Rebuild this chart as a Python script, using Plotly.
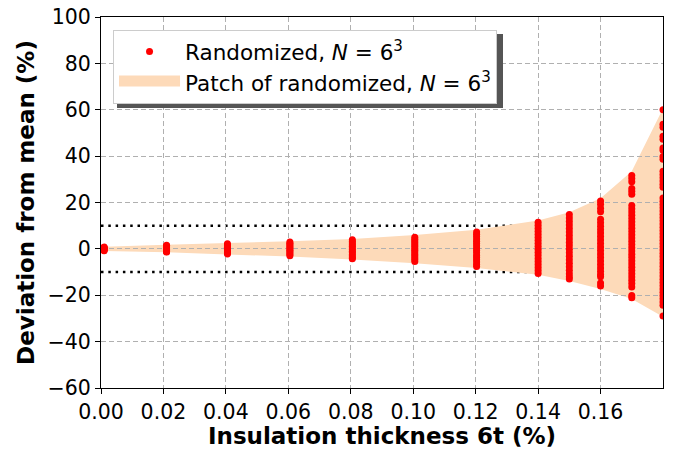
import plotly.graph_objects as go

# ---- data ----
thickness = [0.001, 0.021, 0.0405, 0.0605, 0.0805, 0.1005, 0.1203, 0.14, 0.15, 0.16, 0.17, 0.18]

d000 = [0.8, 0.6, 0.4, 0.2, 0.0, -0.2, -0.4, -0.6, -0.8]
d002 = [1.6, 1.2, 0.8, 0.4, 0.0, -0.4, -0.8, -1.2, -1.4]
d004 = [2.2, 1.7, 1.2, 0.7, 0.2, -0.3, -0.8, -1.3, -1.8, -2.2]
d006 = [3.0, 2.4, 1.8, 1.2, 0.6, 0.0, -0.6, -1.2, -1.8, -2.4, -3.0]
d008 = [3.9, 3.2, 2.5, 1.8, 1.1, 0.4, -0.3, -1.0, -1.7, -2.4, -3.1, -3.8, -4.3]
d010 = [5.0, 4.2, 3.4, 2.6, 1.8, 1.0, 0.2, -0.6, -1.4, -2.2, -3.0, -3.8, -4.6, -5.4]
d012 = [7.3, 6.3, 5.3, 4.3, 3.3, 2.3, 1.3, 0.3, -0.7, -1.7, -2.7, -3.7, -4.7, -5.7, -6.7, -7.6]
d014 = [11.5, 10.2, 8.9, 7.6, 6.3, 5.0, 3.7, 2.4, 1.1, -0.2, -1.5, -2.8, -4.1, -5.4,
        -6.7, -8.0, -9.3, -10.6]
d015 = [14.8, 13.3, 11.8, 10.3, 8.8, 7.3, 5.8, 4.3, 2.8, 1.3, -0.2, -1.7, -3.2, -4.7,
        -6.2, -7.7, -9.2, -10.7, -12.0, -13.0]
d016 = [20.6, 19.2, 17.5, 16.0, 12.8, 11.3, 9.8, 8.3, 6.8, 5.3, 3.8, 2.3, 0.8, -0.7,
        -2.2, -3.7, -5.2, -6.7, -8.2, -9.7, -11.0, -12.0, -14.7, -16.0]
d017 = [31.6, 30.3, 29.0, 26.0, 24.8, 23.6, 18.7, 17.3, 15.9, 14.5, 13.1, 11.7, 10.3,
        8.9, 7.5, 6.1, 4.7, 3.3, 1.9, 0.5, -0.9, -2.3, -3.7, -5.1, -6.5, -7.9, -9.3,
        -10.7, -12.1, -13.5, -14.9, -16.4, -20.1, -21.1]
d018 = [60.0, 53.8, 52.5, 48.6, 47.3, 43.5, 42.5, 39.8, 38.6, 33.5, 32.1, 30.7, 29.3,
        27.9, 26.6, 21.9, 20.5, 19.1, 17.7, 16.3, 14.9, 13.5, 12.1, 10.7, 9.3, 7.9, 6.5,
        5.1, 3.7, 2.3, 0.9, -0.5, -1.9, -3.3, -4.7, -6.1, -7.5, -8.9, -10.3, -11.7,
        -13.1, -14.5, -15.9, -17.3, -18.7, -20.1, -21.5, -22.9, -24.3, -29.0]
columns = [d000, d002, d004, d006, d008, d010, d012, d014, d015, d016, d017, d018]

env_upper = [0.9, 1.8, 2.5, 3.3, 4.3, 6.0, 8.3, 12.2, 15.8, 21.8, 33.5, 60.5]
env_lower = [-0.9, -1.5, -2.4, -3.3, -4.6, -6.2, -8.2, -11.2, -13.9, -17.3, -21.6, -29.3]

thresholds = [10, -10]

x_ticks = [0.0, 0.02, 0.04, 0.06, 0.08, 0.10, 0.12, 0.14, 0.16]
x_ticktext = ["0.00", "0.02", "0.04", "0.06", "0.08", "0.10", "0.12", "0.14", "0.16"]
y_ticks = [-60, -40, -20, 0, 20, 40, 60, 80, 100]

# ---- build ----
FONT = "DejaVu Sans"
PATCH = "#FDDAB9"

pts_x, pts_y = [], []
for xv, col in zip(thickness, columns):
    for v in col:
        pts_x.append(xv)
        pts_y.append(v)

fig = go.Figure()

# envelope drawn as a below-grid shape so gridlines show over it (as in matplotlib)
path = "M " + " L ".join(f"{x},{y}" for x, y in zip(thickness, env_upper))
path += " L " + " L ".join(f"{x},{y}" for x, y in zip(thickness[::-1], env_lower[::-1])) + " Z"
fig.add_shape(type="path", path=path, xref="x", yref="y", layer="below",
              fillcolor=PATCH, line=dict(width=0))

fig.add_trace(go.Scatter(
    x=pts_x, y=pts_y, mode="markers",
    marker=dict(color="red", size=7, line=dict(width=0)),
    name="Randomized, <i>N</i> = 6<sup>3</sup>",
))
# legend proxy for the patch
fig.add_trace(go.Scatter(
    x=[None], y=[None], mode="lines", fill="toself", fillcolor=PATCH,
    line=dict(color=PATCH, width=15),
    name="Patch of randomized, <i>N</i> = 6<sup>3</sup>",
))

for t in thresholds:
    fig.add_shape(type="line", xref="paper", yref="y", x0=0, x1=1, y0=t, y1=t,
                  layer="between", line=dict(color="black", width=2.5, dash="2.5px,4.8px"))

# legend shadow
fig.add_shape(type="rect", xref="paper", yref="paper", layer="above",
              x0=0.0285, x1=0.7153, y0=0.7547, y1=0.954,
              fillcolor="#555555", line=dict(width=0))

axis_common = dict(
    showline=True, linecolor="black", linewidth=1.2, mirror=True,
    ticks="outside", ticklen=5, tickwidth=1.2, tickcolor="black",
    showgrid=True, gridcolor="#b0b0b0", gridwidth=1, griddash="5px,3px",
    zeroline=False, tickfont=dict(family=FONT, size=20.5, color="black"),
)

fig.update_xaxes(range=[0, 0.18], tickvals=x_ticks, ticktext=x_ticktext,
                 title=dict(text="Insulation thickness 6t (%)", standoff=11,
                            font=dict(family=FONT, size=23, color="black", weight="bold")),
                 **axis_common)
fig.update_yaxes(range=[-60, 100], tickvals=y_ticks,
                 title=dict(text="Deviation from mean (%)", standoff=6,
                            font=dict(family=FONT, size=23, color="black", weight="bold")),
                 **axis_common)

fig.update_layout(
    width=683, height=449,
    margin=dict(l=101, r=20, t=17, b=61, autoexpand=False),
    paper_bgcolor="white", plot_bgcolor="white",
    font=dict(family=FONT, color="black"),
    showlegend=True,
    legend=dict(x=0.0214, y=0.965, xanchor="left", yanchor="top",
                bgcolor="white", bordercolor="#cccccc", borderwidth=1,
                font=dict(family=FONT, size=21.5, color="black"),
                itemwidth=61),
)

fig.write_html("out.html")
